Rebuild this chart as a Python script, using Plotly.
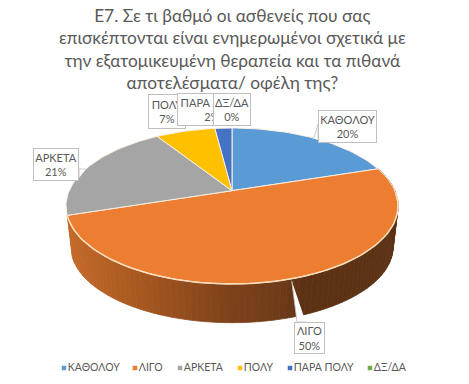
import math
import plotly.graph_objects as go

# ---- data ----
categories = ["ΚΑΘΟΛΟΥ", "ΛΙΓΟ", "ΑΡΚΕΤΑ", "ΠΟΛΥ", "ΠΑΡΑ ΠΟΛΥ", "ΔΞ/ΔΑ"]
values = [20, 50, 21, 7, 2, 0]
colors = ["#5B9BD5", "#ED7D31", "#A5A5A5", "#FFC000", "#4472C4", "#70AD47"]
title_lines = ["Ε7. Σε τι βαθμό οι ασθενείς που σας",
               "επισκέπτονται είναι ενημερωμένοι σχετικά με",
               "την εξατομικευμένη θεραπεία και τα πιθανά",
               "αποτελέσματα/ οφέλη της?"]
# label boxes: left, top, width, height
label_boxes = [(318, 110, 59, 33), (293.5, 322, 31, 32), (33, 148, 46, 33),
               (147.5, 94, 38, 35), (177, 93, 70, 33), (213, 93, 38, 33)]
legend_marker_x = [64, 135, 180, 240, 290, 370]
FONT = "Lato, Carlito, 'Noto Sans', sans-serif"
TEXT = "#595959"

# projection of the 3D pie
CX, TOP_Y, A, B, K = 232, 190.7, 162.8, 75, 0.196
BOT_Y, BOT_S = 232.2, 0.97


def proj(deg, depth=False):
    t = math.radians(deg)
    u, v = math.sin(t), math.cos(t)
    d = 1 + K * v
    s = BOT_S if depth else 1
    y0 = BOT_Y if depth else TOP_Y
    return CX + s * A * u / d, y0 - s * B * v / d


def arc(a0, a1, depth=False):
    n = max(2, int(abs(a1 - a0) / 1.5) + 1)
    return [proj(a0 + (a1 - a0) * i / (n - 1), depth) for i in range(n)]


side_stops = [(60, "#C86C2B"), (150, "#A3561F"), (215, "#85451C"), (285, "#6C3A18"), (300, "#5E3214"), (400, "#5C3214")]


def side_color(x):
    for (x0, c0), (x1, c1) in zip(side_stops, side_stops[1:]):
        if x <= x1:
            f = max(0, (x - x0) / (x1 - x0))
            p = [int(c0[i:i + 2], 16) * (1 - f) + int(c1[i:i + 2], 16) * f for i in (1, 3, 5)]
            return "rgb(%d,%d,%d)" % tuple(p)
    return side_stops[-1][1]


fig = go.Figure()


def poly(points, fill, line=None, width=0.0):
    xs = [p[0] for p in points] + [points[0][0]]
    ys = [p[1] for p in points] + [points[0][1]]
    fig.add_trace(go.Scatter(x=xs, y=ys, mode="lines", fill="toself", fillcolor=fill,
                             line=dict(color=line or fill, width=width), hoverinfo="skip", showlegend=False))


total = sum(values)
starts = []
acc = 0
for v in values:
    starts.append(acc / total * 360)
    acc += v
ends = starts[1:] + [360]

# side wall of the big front slice
a = starts[1]
while a < ends[1]:
    b = min(a + 2, ends[1])
    pts = [proj(a), proj(b), proj(b, True), proj(a, True)]
    poly(pts, side_color(sum(p[0] for p in pts) / 4), width=0.8)
    a = b

# top faces
for v, c, s, e in zip(values, colors, starts, ends):
    if v:
        poly([(CX, TOP_Y)] + arc(s, e), c, line="#FBEFE3", width=1)

# light rim along the front edge
rim = arc(92, 252)
fig.add_trace(go.Scatter(x=[p[0] for p in rim], y=[p[1] for p in rim], mode="lines",
                         line=dict(color="#FBDDBB", width=1.5), hoverinfo="skip", showlegend=False))

# callout leaders
for pts in ([(291.7, 280.7), (297, 322), (305.7, 322)],
            [(314, 138), (318, 124), (318, 140)],
            [(86, 169), (79, 169), (79, 178)]):
    xs = [p[0] for p in pts]
    ys = [p[1] for p in pts]
    fig.add_trace(go.Scatter(x=xs, y=ys, mode="lines", fill="toself", fillcolor="white",
                             line=dict(color="#BFBFBF", width=0.8), hoverinfo="skip", showlegend=False))

# legend
fig.add_trace(go.Scatter(x=legend_marker_x, y=[368] * 6, mode="markers+text",
                         marker=dict(symbol="square", size=4.5, color=colors),
                         text=categories, textposition="middle right",
                         textfont=dict(family=FONT, size=10.5, color=TEXT),
                         hoverinfo="skip", showlegend=False))

# data labels; draw order makes later boxes cover earlier ones
annos = []
for i in [0, 1, 2, 3, 4, 5]:
    x, y, w, h = label_boxes[i]
    annos.append(dict(x=x + w / 2, y=y + h / 2, xref="x", yref="y",
                      text=f"{categories[i]}<br>{values[i]}%",
                      showarrow=False, width=w - 2, height=h - 2, align="center", valign="middle",
                      font=dict(family=FONT, size=11, color=TEXT),
                      bgcolor="white", bordercolor="#BFBFBF", borderwidth=1, borderpad=0))

# chart title, four centred lines at the top of the canvas
annos.append(dict(x=0.495, y=1, xref="paper", yref="paper", xanchor="center", yanchor="top", yshift=-3,
                  text="<br>".join(title_lines), showarrow=False, align="center",
                  font=dict(family=FONT, size=17.3, color=TEXT)))

fig.update_layout(
    width=469, height=384, margin=dict(l=0, r=0, t=0, b=0),
    paper_bgcolor="white", plot_bgcolor="white",
    xaxis=dict(range=[0, 469], visible=False, fixedrange=True),
    yaxis=dict(range=[384, 0], visible=False, fixedrange=True),
    annotations=annos, showlegend=False,
)
fig.write_html("out.html", config=dict(displayModeBar=False),
               post_script="document.body.style.margin='0';document.body.style.overflow='hidden';")
